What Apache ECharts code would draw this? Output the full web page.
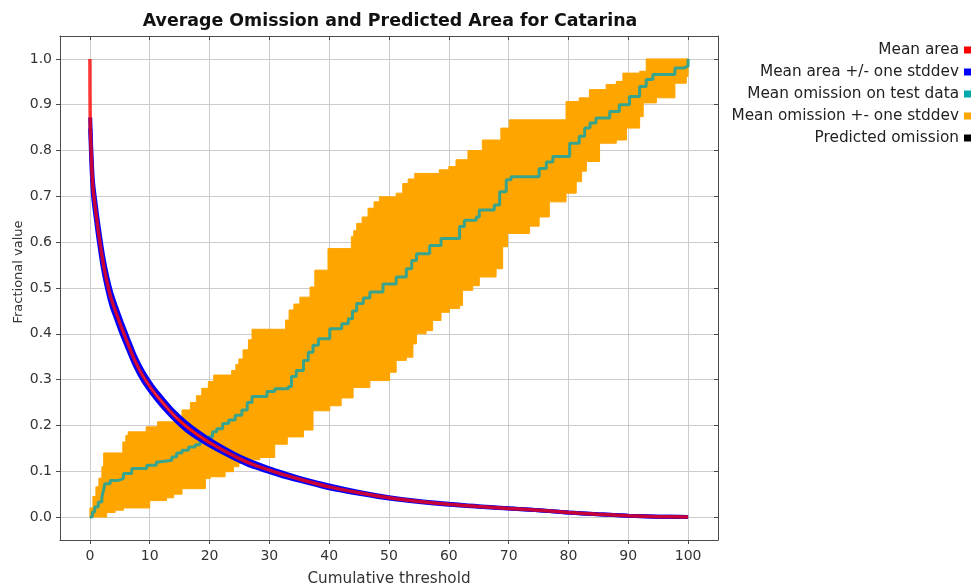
<!DOCTYPE html>
<html><head><meta charset="utf-8">
<script src="https://cdn.jsdelivr.net/npm/echarts@6/dist/echarts.min.js"></script>
<style>html,body{margin:0;padding:0;background:#fff}#c{width:978px;height:586px}</style>
</head><body><div id="c"></div>
<script>
const chartTitle = 'Average Omission and Predicted Area for Catarina';
const xTicks = [0,10,20,30,40,50,60,70,80,90,100];
const yTicks = [0,0.1,0.2,0.3,0.4,0.5,0.6,0.7,0.8,0.9,1.0];
const legendNames = ['Mean area','Mean area +/- one stddev','Mean omission on test data','Mean omission +- one stddev','Predicted omission'];

// Mean predicted area (threshold, fraction)
const areaX    = [0,0.05,0.2,0.5,1,1.4,2.2,3,3.6,4.4,5.3,6.4,7.5,8.9,10.4,12,14,16,18.4,21,24.3,27,29.9,32.5,35.5,40,45,50,55,60,65,70,75,80,85,90,95,100];
const meanArea = [1.0,0.86,0.80,0.72,0.665,0.625,0.556,0.505,0.475,0.445,0.413,0.377,0.342,0.307,0.278,0.252,0.223,0.199,0.176,0.155,0.132,0.116,0.103,0.092,0.081,0.066,0.053,0.042,0.034,0.028,0.023,0.019,0.015,0.010,0.006,0.003,0.001,0.0];
const areaSd   = [0,0.012,0.014,0.015,0.015,0.015,0.015,0.014,0.014,0.013,0.013,0.012,0.011,0.010,0.009,0.009,0.008,0.008,0.007,0.006,0.005,0.005,0.004,0.004,0.003,0.003,0.002,0.0015,0.001,0.001,0.0005,0.0005,0,0,0,0,0,0];

// Mean omission on test data (step breakpoints: [threshold, value from here on])
const omissionMean = [[0,0],[0.4,0.011],[0.8,0.022],[1.4,0.033],[2,0.044],[2.3,0.06],[2.5,0.073],[3.4,0.08],[4.7,0.084],[5.6,0.095],[7,0.106],[9.5,0.113],[11.1,0.12],[11.5,0.124],[13.7,0.131],[14.5,0.14],[15.4,0.146],[16.5,0.153],[17.6,0.158],[18.4,0.164],[19.8,0.175],[20.5,0.186],[21.2,0.193],[22.2,0.204],[23.2,0.212],[24.3,0.222],[25.4,0.234],[26.3,0.25],[27.1,0.263],[29.6,0.274],[30.9,0.28],[33.2,0.285],[33.7,0.307],[34.5,0.32],[35.7,0.342],[36.5,0.36],[37.3,0.375],[38.2,0.389],[40.1,0.411],[42.1,0.422],[43.2,0.433],[43.9,0.45],[44.6,0.466],[45.7,0.478],[46.8,0.491],[49,0.509],[51.2,0.524],[52.9,0.542],[53.8,0.56],[54.6,0.575],[56.8,0.593],[58.7,0.608],[61.8,0.634],[62.6,0.648],[64.6,0.655],[65.1,0.67],[67.6,0.681],[68.5,0.71],[69.6,0.736],[70.4,0.743],[75.1,0.761],[76.3,0.775],[77.4,0.787],[80.2,0.816],[81.8,0.831],[82.7,0.849],[83.6,0.86],[84.6,0.871],[86.9,0.885],[88.5,0.9],[90.2,0.918],[91.9,0.94],[93,0.955],[94.1,0.966],[97.8,0.98],[99.2,0.984],[100,1.0]];
// Mean omission + one stddev
const omissionUpper = [[0,0.02],[0.5,0.045],[1,0.066],[1.5,0.085],[2,0.11],[2.3,0.14],[5.5,0.164],[6,0.178],[6.4,0.186],[9.4,0.197],[11.3,0.208],[14.2,0.214],[15.4,0.234],[16.8,0.25],[17.8,0.265],[18.7,0.281],[19.8,0.296],[20.7,0.31],[23.7,0.32],[24.4,0.333],[24.9,0.345],[25.6,0.365],[26.5,0.387],[27.1,0.41],[32.7,0.43],[33.3,0.452],[34.1,0.465],[35.1,0.48],[36.8,0.502],[37.6,0.539],[39.8,0.586],[43.7,0.612],[44.1,0.625],[44.6,0.641],[45.5,0.655],[46.5,0.674],[47.5,0.688],[48.4,0.699],[51.2,0.707],[52.3,0.728],[53.2,0.738],[54.3,0.75],[58.4,0.758],[60,0.765],[61.2,0.78],[63.2,0.8],[65.6,0.823],[68.7,0.849],[70.1,0.867],[79.6,0.907],[81.8,0.915],[83.5,0.933],[86.3,0.944],[88,0.951],[89.1,0.969],[91.9,0.973],[93,1.0],[100,1.0]];
// Mean omission - one stddev
const omissionLower = [[0,0],[2.8,0.01],[4.2,0.015],[5.6,0.02],[10,0.036],[12.8,0.042],[14,0.05],[15.4,0.062],[19.3,0.084],[20.1,0.088],[22.6,0.099],[24,0.11],[24.9,0.117],[26.5,0.125],[28.4,0.13],[30.9,0.159],[33,0.175],[35.7,0.19],[37.3,0.232],[40.1,0.243],[42,0.26],[44,0.283],[46.8,0.298],[50.1,0.316],[51.2,0.342],[52.9,0.349],[54,0.378],[54.6,0.4],[56.2,0.407],[57.3,0.429],[58.7,0.447],[60.1,0.455],[61.8,0.462],[62.3,0.495],[64,0.505],[65.1,0.524],[67.9,0.542],[69,0.59],[69.8,0.619],[73.5,0.635],[75.1,0.655],[76.8,0.688],[79.6,0.707],[81.3,0.732],[82.2,0.755],[83,0.776],[85.2,0.816],[88,0.823],[89.7,0.849],[91.9,0.874],[92.5,0.904],[94.7,0.915],[97.8,0.947],[99.7,0.962],[100,1.0]];
// Predicted omission
const predictedOmission = [[0,0],[100,1]];

const colors = {
  area: '#ff0000', areaSd: '#0000ff', omission: '#00aaaa', omissionLine: '#38a48c',
  band: '#ffa500', predicted: '#000000'
};

function stepPoints(bp) {
  const pts = [];
  for (let i = 0; i < bp.length; i++) {
    if (i > 0) pts.push([bp[i][0], bp[i-1][1]]);
    pts.push(bp[i]);
  }
  return pts;
}
const upperPts = stepPoints(omissionUpper);
const lowerPts = stepPoints(omissionLower);
const areaUpper = areaX.map((x, i) => [x, meanArea[i] + areaSd[i]]).slice(1);
const areaLower = areaX.map((x, i) => [x, Math.max(0, meanArea[i] - areaSd[i])]).slice(1);
const areaMean = areaX.map((x, i) => [x, meanArea[i]]);

const chart = echarts.init(document.getElementById('c'), null, {renderer: 'canvas'});
const axisColor = '#4a4a4a';
const FONT = 'DejaVu Sans, Verdana, sans-serif';
const labelFont = {fontFamily: FONT, fontSize: 14, color: '#333'};

chart.setOption({
  backgroundColor: '#fff',
  animation: false,
  title: {
    text: chartTitle, left: 385, top: 8, textAlign: 'center',
    textStyle: {fontFamily: FONT, fontWeight: 'bold', fontSize: 17.4, color: '#111'}
  },
  legend: {
    orient: 'vertical', right: 2, top: 37, align: 'right', icon: 'rect',
    itemWidth: 7, itemHeight: 7, itemGap: 6, selectedMode: false,
    textStyle: {fontFamily: FONT, fontSize: 15.3, color: '#222', lineHeight: 16},
    data: [
      {name: legendNames[0], itemStyle: {color: colors.area}},
      {name: legendNames[1], itemStyle: {color: colors.areaSd}},
      {name: legendNames[2], itemStyle: {color: colors.omission}},
      {name: legendNames[3], itemStyle: {color: colors.band}},
      {name: legendNames[4], itemStyle: {color: colors.predicted}}
    ]
  },
  grid: {left: 60, right: 260, top: 36, bottom: 46, containLabel: false, outerBoundsMode: 'none'},
  xAxis: [{
    type: 'value', min: -5, max: 105, position: 'bottom',
    axisLine: {onZero: false, lineStyle: {color: axisColor, width: 1}},
    axisTick: {customValues: xTicks, length: 4, lineStyle: {color: axisColor}},
    axisLabel: Object.assign({customValues: xTicks, margin: 9}, labelFont),
    splitLine: {show: true, lineStyle: {color: '#cccccc', width: 1}},
    name: 'Cumulative threshold', nameLocation: 'middle', nameGap: 32,
    nameTextStyle: {fontFamily: FONT, fontSize: 15.2, color: '#333'}
  }, {
    type: 'value', min: -5, max: 105, position: 'top',
    axisLine: {onZero: false, lineStyle: {color: axisColor}},
    axisTick: {inside: true, customValues: xTicks, length: 4, lineStyle: {color: axisColor}},
    axisLabel: {show: false}, splitLine: {show: false}
  }],
  yAxis: [{
    type: 'value', min: -0.05, max: 1.05, position: 'left',
    axisLine: {show: true, onZero: false, lineStyle: {color: axisColor}},
    axisTick: {show: true, customValues: yTicks, length: 4, lineStyle: {color: axisColor}},
    axisLabel: Object.assign({customValues: yTicks, margin: 8, formatter: v => v.toFixed(1)}, labelFont),
    splitLine: {show: true, lineStyle: {color: '#cccccc', width: 1}},
    name: 'Fractional value', nameLocation: 'middle', nameGap: 35, nameRotate: 90, nameMoveOverlap: false,
    nameTextStyle: {fontFamily: FONT, fontSize: 13, color: '#333', padding: [0, 0, 0, 32]}
  }, {
    type: 'value', min: -0.05, max: 1.05, position: 'right',
    axisLine: {show: true, onZero: false, lineStyle: {color: axisColor}},
    axisTick: {show: true, inside: true, customValues: yTicks, length: 4, lineStyle: {color: axisColor}},
    axisLabel: {show: false}, splitLine: {show: false}
  }],
  series: [
    {
      name: legendNames[4], type: 'line', data: predictedOmission, showSymbol: false, z: 1,
      itemStyle: {color: colors.predicted}, lineStyle: {color: colors.predicted, width: 1}
    },
    {
      name: legendNames[3], type: 'custom', z: 2, clip: true,
      itemStyle: {color: colors.band},
      data: [[0, 0]],
      encode: {x: 0, y: 1},
      renderItem: function (params, api) {
        const pts = upperPts.map(p => api.coord(p)).concat(lowerPts.slice().reverse().map(p => api.coord(p)));
        return {type: 'polygon', shape: {points: pts}, style: {fill: colors.band, stroke: colors.band, lineWidth: 1}};
      }
    },
    {
      name: legendNames[2], type: 'line', step: 'end', data: omissionMean, showSymbol: false, z: 3,
      itemStyle: {color: colors.omission}, lineStyle: {color: colors.omissionLine, width: 3}
    },
    {
      name: legendNames[1], type: 'line', data: areaUpper, showSymbol: false, z: 4, smooth: 0.3,
      itemStyle: {color: colors.areaSd}, lineStyle: {color: colors.areaSd, width: 4}
    },
    {
      name: legendNames[1], type: 'line', data: areaLower, showSymbol: false, z: 4, smooth: 0.3,
      itemStyle: {color: colors.areaSd}, lineStyle: {color: colors.areaSd, width: 4}
    },
    {
      name: legendNames[0], type: 'line', data: areaMean, showSymbol: false, z: 5, smooth: 0.3,
      itemStyle: {color: colors.area}, lineStyle: {color: colors.area, width: 3.5, opacity: 0.78}
    }
  ]
});
</script>
</body></html>
